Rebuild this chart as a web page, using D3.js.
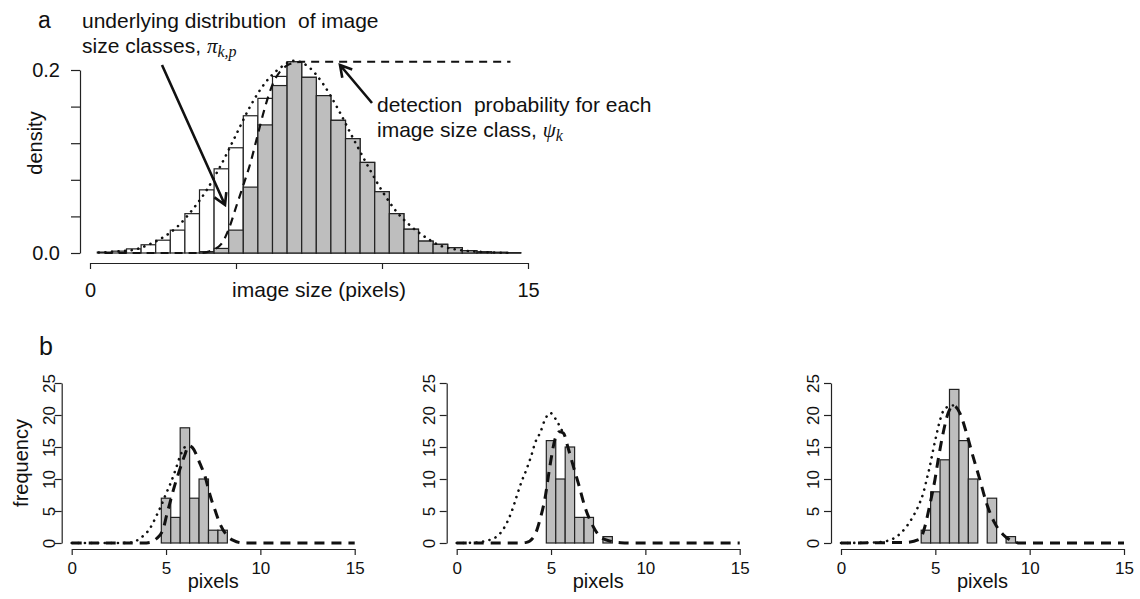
<!DOCTYPE html>
<html lang="en">
<head>
<meta charset="UTF-8">
<title>Image size classes and detection</title>
<style>
    body {
        margin: 0;
        padding: 0;
        background: #fff;
    }

    svg {
        display: block;
        font-family: "Liberation Sans", Arial, sans-serif;
    }

    .axis path, .axis line {
        stroke: #222;
        stroke-width: 1.2;
    }

    .axis text {
        fill: #111;
        font-family: "Liberation Sans", Arial, sans-serif;
    }

    .bar {
        stroke: #222;
        stroke-width: 1.2;
    }

    .dotted {
        fill: none;
        stroke: #111;
        stroke-width: 2.6;
        stroke-linecap: round;
        stroke-dasharray: 0.1 6.5;
    }

    .dashed {
        fill: none;
        stroke: #111;
        stroke-width: 2.2;
        stroke-dasharray: 8 6;
    }

    .label {
        fill: #111;
        font-size: 20px;
    }

    .note {
        fill: #111;
        font-size: 21px;
    }
</style>
</head>
<body>
<svg width="1140" height="599"></svg>

<script src="https://cdnjs.cloudflare.com/ajax/libs/d3/7.8.5/d3.min.js"></script>
<script>
    // ---- panel a: size classes (bin centres, width 0.5) ----
    const sizeClasses = [0.5, 1, 1.5, 2, 2.5, 3, 3.5, 4, 4.5, 5, 5.5, 6, 6.5, 7, 7.5,
        8, 8.5, 9, 9.5, 10, 10.5, 11, 11.5, 12, 12.5, 13, 13.5, 14, 14.5];
    // underlying distribution (white bars)
    const underlying = [0.001, 0.002, 0.0045, 0.009, 0.014, 0.025, 0.043, 0.069, 0.092, 0.115,
        0.150, 0.169, 0.193, 0.209, 0.192, 0.172, 0.145, 0.125, 0.099, 0.067,
        0.043, 0.026, 0.013, 0.0095, 0.0058, 0.0025, 0.0013, 0.0007, 0.0004];
    // detected part (grey bars)
    const detected = [0, 0, 0, 0, 0, 0, 0, 0.0015, 0.005, 0.025,
        0.072, 0.140, 0.183, 0.209, 0.192, 0.172, 0.145, 0.125, 0.099, 0.067,
        0.043, 0.026, 0.013, 0.0095, 0.0058, 0.0025, 0.0013, 0.0007, 0.0004];

    // dotted curve (density)
    const densX = [0.3, 0.5, 1, 1.5, 2, 2.5, 3, 3.5, 4, 4.5, 5, 5.5, 6, 6.5, 7, 7.5,
        8, 8.5, 9, 9.5, 10, 10.5, 11, 11.5, 12, 12.5, 13, 13.5, 14, 14.5];
    const densY = [0.0005, 0.0008, 0.0018, 0.0035, 0.009, 0.017, 0.029, 0.047, 0.069, 0.097,
        0.129, 0.161, 0.186, 0.202, 0.210, 0.203, 0.184, 0.157, 0.126, 0.096,
        0.068, 0.045, 0.029, 0.017, 0.008, 0.004, 0.002, 0.001, 0.0004, 0.0001];

    // dashed curve (detection probability, scaled)
    const psiX = [0.5, 3.8, 4, 4.25, 4.5, 4.75, 5, 5.25, 5.5, 5.75, 6, 6.25, 6.5, 6.75, 7, 7.25, 14.4];
    const psiY = [0, 0, 0.001, 0.004, 0.010, 0.026, 0.050, 0.074, 0.099, 0.130, 0.160, 0.184,
        0.198, 0.205, 0.208, 0.209, 0.209];

    // ---- panel b: three samples ----
    // dotted = underlying expected counts (drawn until it meets the dashed curve)
    // dashed = expected detected counts
    const s1Centers = [5, 5.5, 6, 6.5, 7, 7.5, 8];
    const s1Counts = [7, 4, 18, 7, 10, 2, 2];
    const s1Dotted = [[0, 0], [2.5, 0], [3, 0.05], [3.3, 0.15], [3.6, 0.7], [4, 1.7], [4.25, 2.8],
        [4.5, 4.3], [4.75, 5.9], [5, 7.7], [5.25, 9.4], [5.5, 11.4], [5.75, 13.6], [6, 15.0],
        [6.2, 15.3]];
    const s1Dashed = [[0, 0], [3.8, 0], [4.24, 0.15], [4.5, 0.7], [4.85, 2.2], [5.03, 4.3], [5.2, 6.2],
        [5.46, 9], [5.73, 11.5], [6, 13.8], [6.2, 15.2], [6.4, 14.9], [6.8, 12.4], [7.07, 10.4],
        [7.33, 7.5], [7.6, 5.1], [7.86, 3], [8.22, 1.2], [8.57, 0.4], [9.1, 0], [15, 0]];

    const s2Centers = [5, 5.5, 6, 6.5, 7, 8];
    const s2Counts = [16, 10, 15, 4, 4, 1];
    const s2Dotted = [[0, 0], [1, 0.05], [1.5, 0.3], [2.12, 1.0], [2.56, 2.6], [2.91, 4.9], [3.18, 7.3],
        [3.44, 9.6], [3.7, 11.5], [3.97, 13.8], [4.15, 15.6], [4.45, 17.4], [4.68, 19.3], [4.98, 20.3],
        [5.26, 19.3], [5.47, 18.2], [5.65, 17.2]];
    const s2Dashed = [[0, 0], [3.3, 0], [3.7, 0.1], [4.15, 1.3], [4.41, 3.6], [4.68, 7], [4.94, 12],
        [5.2, 16.1], [5.45, 17.4], [5.65, 17.2], [5.91, 14.8], [6.18, 12], [6.49, 8.9], [6.79, 5.7],
        [7.23, 2.6], [7.68, 0.8], [8.2, 0.26], [8.7, 0.05], [9.5, 0], [15, 0]];

    const s3Centers = [4.5, 5, 5.5, 6, 6.5, 7, 8, 9];
    const s3Counts = [2, 8, 13, 24, 16, 10, 7, 1];
    const s3Dotted = [[0, 0], [1.5, 0.05], [2.4, 0.3], [2.95, 1.0], [3.48, 2.6], [3.83, 4.2], [4.09, 5.7],
        [4.36, 7.8], [4.54, 9.9], [4.71, 12], [4.89, 14.6], [5.06, 16.9], [5.28, 19.5], [5.45, 20.8],
        [5.68, 21.3], [5.95, 21.5]];
    const s3Dashed = [[0, 0], [3.48, 0.1], [4.18, 0.6], [4.45, 2.6], [4.71, 6], [4.98, 9.9], [5.15, 13],
        [5.38, 16.7], [5.68, 20.3], [5.95, 21.5], [6.3, 20.3], [6.65, 17.2], [7, 13.5], [7.36, 9.9],
        [7.71, 6.25], [8.15, 3.1], [8.6, 1.3], [9.12, 0.26], [9.5, 0], [15, 0]];

    const svg = d3.select("svg");

    /*-------------- panel a ------------------*/
    const xA = d3.scaleLinear().domain([0, 15]).range([90, 528]);
    const yA = d3.scaleLinear().domain([0, 0.2]).range([253, 70]);
    const pA = svg.append("g");

    // white bars = underlying distribution
    pA.selectAll("rect.under")
        .data(sizeClasses)
        .enter()
        .append("rect")
        .attr("class", "bar under")
        .attr("x", d => xA(d - 0.25))
        .attr("width", d => xA(d + 0.25) - xA(d - 0.25))
        .attr("y", (d, i) => yA(underlying[i]))
        .attr("height", (d, i) => yA(0) - yA(underlying[i]))
        .attr("fill", "#fff");

    // grey bars = detected
    pA.selectAll("rect.det")
        .data(sizeClasses)
        .enter()
        .append("rect")
        .attr("class", "bar det")
        .attr("x", d => xA(d - 0.25))
        .attr("width", d => xA(d + 0.25) - xA(d - 0.25))
        .attr("y", (d, i) => yA(detected[i]))
        .attr("height", (d, i) => yA(0) - yA(detected[i]))
        .attr("fill", "#bebebe");

    const lineA = d3.line().curve(d3.curveMonotoneX);
    pA.append("path")
        .attr("class", "dashed")
        .attr("d", lineA(psiX.map((x, i) => [xA(x), yA(psiY[i])])));
    pA.append("path")
        .attr("class", "dotted")
        .attr("d", lineA(densX.map((x, i) => [xA(x), yA(densY[i])])));

    // axes
    const yAxisA = d3.axisLeft(yA)
        .tickValues([0, 0.04, 0.08, 0.12, 0.16, 0.2])
        .tickFormat(d => d === 0 ? "0.0" : (Math.abs(d - 0.2) < 1e-9 ? "0.2" : ""))
        .tickSize(9).tickPadding(11).tickSizeOuter(0);
    svg.append("g").attr("class", "axis")
        .attr("transform", "translate(80,0)")
        .call(yAxisA)
        .selectAll("text").attr("font-size", 20);

    const xAxisA = d3.axisBottom(xA)
        .tickValues([0, 5, 10, 15])
        .tickFormat(d => (d === 0 || d === 15) ? d : "")
        .tickSize(6).tickPadding(14).tickSizeOuter(0);
    svg.append("g").attr("class", "axis")
        .attr("transform", "translate(0,263)")
        .call(xAxisA)
        .selectAll("text").attr("font-size", 20);

    svg.append("text").attr("class", "note")
        .attr("x", 319).attr("y", 297).attr("text-anchor", "middle")
        .text("image size (pixels)");
    svg.append("text").attr("class", "label")
        .attr("transform", "translate(42,143) rotate(-90)")
        .attr("text-anchor", "middle")
        .text("density");

    svg.append("text").attr("class", "label").style("font-size", "23px")
        .attr("x", 38).attr("y", 28).text("a");

    // annotations
    const ann1 = svg.append("text").attr("class", "note").attr("x", 82).attr("y", 28)
        .attr("xml:space", "preserve");
    ann1.text("underlying distribution  of image");
    const ann2 = svg.append("text").attr("class", "note").attr("x", 82).attr("y", 53);
    ann2.append("tspan").text("size classes, ");
    ann2.append("tspan").attr("font-family", "Liberation Serif, serif").attr("font-style", "italic").text("\u03c0");
    ann2.append("tspan").attr("font-family", "Liberation Serif, serif").attr("font-style", "italic")
        .attr("font-size", 16).attr("dy", 4).text("k,p");

    const ann3 = svg.append("text").attr("class", "note").attr("x", 377).attr("y", 112)
        .attr("xml:space", "preserve");
    ann3.text("detection  probability for each");
    const ann4 = svg.append("text").attr("class", "note").attr("x", 377).attr("y", 137);
    ann4.append("tspan").text("image size class, ");
    ann4.append("tspan").attr("font-family", "Liberation Serif, serif").attr("font-style", "italic").text("\u03c8");
    ann4.append("tspan").attr("font-family", "Liberation Serif, serif").attr("font-style", "italic")
        .attr("font-size", 16).attr("dy", 4).text("k");

    function arrow(x1, y1, x2, y2) {
        const a = Math.atan2(y2 - y1, x2 - x1);
        const len = 13, sp = Math.PI / 6;
        const p = d3.path();
        p.moveTo(x1, y1);
        p.lineTo(x2, y2);
        p.moveTo(x2 - len * Math.cos(a - sp), y2 - len * Math.sin(a - sp));
        p.lineTo(x2, y2);
        p.lineTo(x2 - len * Math.cos(a + sp), y2 - len * Math.sin(a + sp));
        svg.append("path").attr("d", p.toString())
            .attr("fill", "none").attr("stroke", "#111").attr("stroke-width", 2.6);
    }
    arrow(162, 65, 225, 205);
    arrow(372, 103, 340, 65);

    /*-------------- panel b ------------------*/
    svg.append("text").attr("class", "label").style("font-size", "25px")
        .attr("x", 39).attr("y", 355).text("b");

    const samples = [
        { x0: 71.7, lab: 13, centers: s1Centers, counts: s1Counts, dotted: s1Dotted, dashed: s1Dashed },
        { x0: 456.7, lab: 18, centers: s2Centers, counts: s2Counts, dotted: s2Dotted, dashed: s2Dashed },
        { x0: 841, lab: 18, centers: s3Centers, counts: s3Counts, dotted: s3Dotted, dashed: s3Dashed }
    ];

    samples.forEach((s, k) => {
        const x = d3.scaleLinear().domain([0, 15]).range([s.x0, s.x0 + 283]);
        const y = d3.scaleLinear().domain([0, 25]).range([543, 383]);
        const g = svg.append("g");

        g.selectAll("rect")
            .data(s.centers)
            .enter()
            .append("rect")
            .attr("class", "bar")
            .attr("x", d => x(d - 0.25))
            .attr("width", d => x(d + 0.25) - x(d - 0.25))
            .attr("y", (d, i) => y(s.counts[i]))
            .attr("height", (d, i) => y(0) - y(s.counts[i]))
            .attr("fill", "#bebebe")
            .attr("stroke-width", 1.5);

        const line = d3.line().curve(d3.curveMonotoneX).x(d => x(d[0])).y(d => y(d[1]));
        g.append("path").attr("class", "dotted").attr("d", line(s.dotted));
        g.append("path").attr("class", "dashed")
            .style("stroke-width", 3).style("stroke-dasharray", "10 7")
            .attr("d", line(s.dashed));

        const yAx = svg.append("g").attr("class", "axis")
            .attr("transform", `translate(${s.x0 - 10},0)`)
            .call(d3.axisLeft(y).tickValues([0, 5, 10, 15, 20, 25]).tickSize(7).tickSizeOuter(0));
        yAx.selectAll(".tick text")
            .attr("x", 0)
            .attr("dy", "0.35em")
            .attr("font-size", 17)
            .attr("text-anchor", "middle")
            .attr("transform", `translate(${-s.lab},0) rotate(-90)`);

        svg.append("g").attr("class", "axis")
            .attr("transform", "translate(0,549)")
            .call(d3.axisBottom(x).tickValues([0, 5, 10, 15]).tickSize(6).tickPadding(7).tickSizeOuter(0))
            .selectAll("text").attr("font-size", 17);

        svg.append("text").attr("class", "label")
            .attr("x", (x.range()[0] + x.range()[1]) / 2).attr("y", 588)
            .attr("text-anchor", "middle").text("pixels");

        if (k === 0) {
            svg.append("text").attr("class", "label")
                .attr("transform", "translate(28,463) rotate(-90)")
                .attr("text-anchor", "middle")
                .text("frequency");
        }
    });
</script>
</body>
</html>
